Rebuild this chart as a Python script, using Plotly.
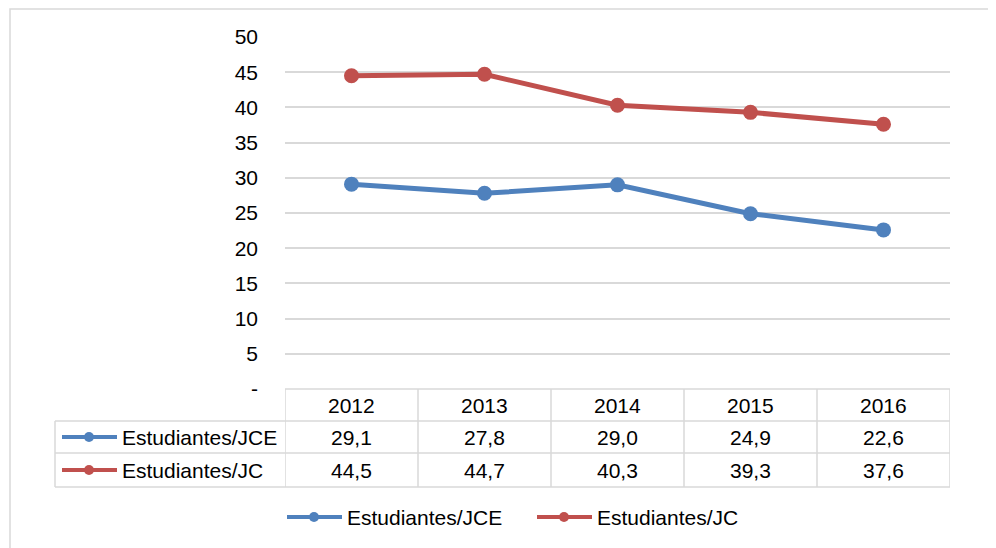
"""Estudiantes por juez: line chart with an Excel-style data table below."""

import plotly.graph_objects as go

W, H = 996, 548
OFF = 8  # page body margin the figure sits inside

years = ["2012", "2013", "2014", "2015", "2016"]
series_names = ["Estudiantes/JCE", "Estudiantes/JC"]
jce = [29.1, 27.8, 29.0, 24.9, 22.6]
jc = [44.5, 44.7, 40.3, 39.3, 37.6]
series_values = [jce, jc]
colors = ["#4f81bd", "#c0504d"]
y_ticks = [0, 5, 10, 15, 20, 25, 30, 35, 40, 45, 50]
y_ticktext = ["-" if v == 0 else str(v) for v in y_ticks]

FONT = "Liberation Sans, Arial, sans-serif"
GRID = "#d9d9d9"


def px(x):
    # screen pixel -> paper fraction
    return (x - OFF) / W


def py(y):
    return 1 - (y - OFF) / H


def fmt(v):
    return f"{v:.1f}".replace(".", ",")


fig = go.Figure()
xs = list(range(len(years)))
for name, vals, col in zip(series_names, series_values, colors):
    fig.add_trace(go.Scatter(
        x=xs, y=vals, name=name, mode="lines+markers",
        line=dict(color=col, width=5),
        marker=dict(color=col, size=15),
        showlegend=False, cliponaxis=False,
    ))

shapes = []
annotations = []

# outer chart border
shapes.append(dict(type="rect", xref="paper", yref="paper",
                   x0=px(10), x1=px(1030), y0=py(600), y1=py(9),
                   line=dict(color=GRID, width=1.5)))

# data table
row_lines = [389, 421, 453, 487]
tbl_left, tbl_right = 55, 950
for i, yl in enumerate(row_lines):
    x0 = 285 if i == 0 else tbl_left
    shapes.append(dict(type="line", xref="paper", yref="paper",
                       x0=px(x0), x1=px(tbl_right), y0=py(yl), y1=py(yl),
                       line=dict(color=GRID, width=1.5)))
for k in range(len(years) + 1):
    shapes.append(dict(type="line", xref="x", yref="paper",
                       x0=k - 0.5, x1=k - 0.5, y0=py(row_lines[0]), y1=py(row_lines[-1]),
                       line=dict(color=GRID, width=1.5)))
shapes.append(dict(type="line", xref="paper", yref="paper",
                   x0=px(tbl_left), x1=px(tbl_left), y0=py(row_lines[1]), y1=py(row_lines[-1]),
                   line=dict(color=GRID, width=1.5)))

for i, yr in enumerate(years):
    annotations.append(dict(x=i, xref="x", y=py(405), yref="paper", text=yr,
                            showarrow=False, yanchor="middle"))

row_centers = [437, 470]
for r, (name, vals, col) in enumerate(zip(series_names, series_values, colors)):
    yc = row_centers[r]
    for i, v in enumerate(vals):
        annotations.append(dict(x=i, xref="x", y=py(yc), yref="paper", text=fmt(v),
                                showarrow=False, yanchor="middle"))
    # key inside the table
    shapes.append(dict(type="line", xref="paper", yref="paper",
                       x0=px(62), x1=px(117), y0=py(yc), y1=py(yc),
                       line=dict(color=col, width=4)))
    shapes.append(dict(type="circle", xref="paper", yref="paper",
                       xsizemode="pixel", ysizemode="pixel",
                       xanchor=px(89), yanchor=py(yc), x0=-5, x1=5, y0=-5, y1=5,
                       fillcolor=col, line=dict(width=0)))
    annotations.append(dict(x=px(120), xref="paper", y=py(yc), yref="paper", text=name,
                            showarrow=False, xanchor="left", yanchor="middle"))

# bottom legend
leg_y = 517
leg_starts = [287, 537]
for name, col, x0 in zip(series_names, colors, leg_starts):
    shapes.append(dict(type="line", xref="paper", yref="paper",
                       x0=px(x0), x1=px(x0 + 55), y0=py(leg_y), y1=py(leg_y),
                       line=dict(color=col, width=4)))
    shapes.append(dict(type="circle", xref="paper", yref="paper",
                       xsizemode="pixel", ysizemode="pixel",
                       xanchor=px(x0 + 27), yanchor=py(leg_y), x0=-5, x1=5, y0=-5, y1=5,
                       fillcolor=col, line=dict(width=0)))
    annotations.append(dict(x=px(x0 + 58), xref="paper", y=py(leg_y), yref="paper", text=name,
                            showarrow=False, xanchor="left", yanchor="middle"))

fig.update_layout(
    width=W, height=H,
    margin=dict(l=0, r=0, t=0, b=0, autoexpand=False),
    paper_bgcolor="white", plot_bgcolor="white",
    font=dict(family=FONT, size=21, color="#000000"),
    shapes=shapes, annotations=annotations,
    xaxis=dict(domain=[px(285), px(950)], range=[-0.5, len(years) - 0.5],
               showticklabels=False, showgrid=False, zeroline=False,
               automargin=False, fixedrange=True),
    yaxis=dict(domain=[py(389), py(37)], range=[0, 50],
               tickvals=y_ticks, ticktext=y_ticktext,
               showgrid=True, gridcolor=GRID, gridwidth=1.5, zeroline=False,
               ticks="", ticklabelstandoff=26, automargin=False, fixedrange=True),
)

fig.write_html("out.html")
